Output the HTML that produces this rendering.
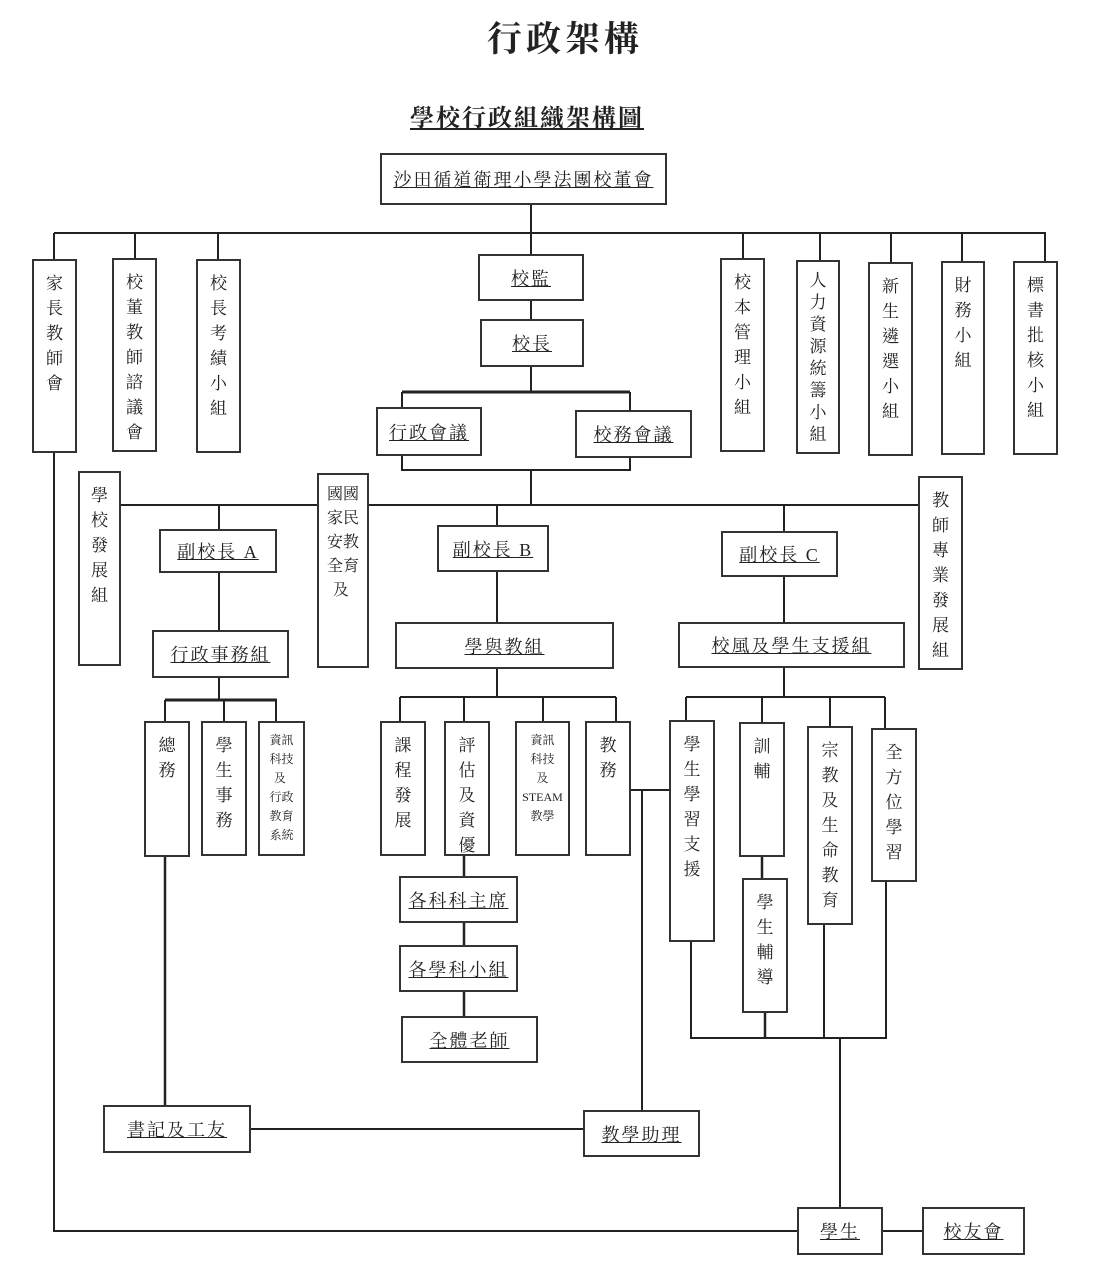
<!DOCTYPE html>
<html><head><meta charset="utf-8"><style>
body{margin:0;background:#fff;}
#c{position:relative;width:1100px;height:1271px;overflow:hidden;font-family:"Liberation Serif","Noto Serif CJK TC","Noto Serif CJK SC",serif;color:#222;}
.b{position:absolute;border:2px solid #333;box-sizing:border-box;background:#fff;}
.h{display:flex;align-items:center;justify-content:center;font-size:18px;}
.h span{text-decoration:underline;letter-spacing:2px;}
.v{text-align:center;font-size:17px;line-height:25px;padding-top:10px;}
.s{text-align:center;font-size:12px;line-height:19px;padding-top:8px;}
svg{position:absolute;left:0;top:0;}
</style></head><body><div id="c">
<div style="position:absolute;left:0;width:1100px;top:12px;text-align:center;font-size:35px;font-weight:bold;letter-spacing:4px;padding-left:30px;box-sizing:border-box;font-family:'Liberation Serif','Noto Serif CJK TC',serif;">行政架構</div>
<div style="position:absolute;left:410px;top:98px;font-size:24px;font-weight:bold;text-decoration:underline;letter-spacing:2px;">學校行政組織架構圖</div>
<svg width="1100" height="1271" stroke="#222" stroke-width="2" fill="none">
<path d="M54 233H1046M54 233V259M135 233V258M218 233V259M531 205V254M743 233V258M820 233V260M891 233V262M962 233V261M1045 233V261"/>
<path d="M531 301V319M531 367V392M402 392V407M630 392V410"/>
<path d="M402 392H630" stroke-width="3"/>
<path d="M402 456V470H630V458M531 470V505M121 505H918M219 505V529M497 505V525M784 505V531"/>
<path d="M219 573V630M497 572V622M784 577V622"/>
<path d="M219 678V700M165 700V721M224 700V721M276 700V721"/>
<path d="M165 700H277" stroke-width="3"/>
<path d="M497 669V697M400 697H616M400 697V721M464 697V721M543 697V721M616 697V721"/>
<path d="M784 668V697M686 697H885M686 697V720M762 697V722M830 697V726M885 697V728"/>
<path d="M631 790H669M642 790V1110"/>
<path d="M464 856V876M464 923V945M464 992V1016" stroke-width="2.5"/>
<path d="M762 857V878M765 1013V1038" stroke-width="2.5"/>
<path d="M691 942V1038H886V882M824 925V1038M840 1038V1207"/>
<path d="M165 857V1105" stroke-width="2.5"/>
<path d="M251 1129H583M883 1231H922M54 453V1231H797"/>
</svg>
<div class="b h" style="left:380px;top:153px;width:287px;height:52px"><span>沙田循道衛理小學法團校董會</span></div>
<div class="b v" style="left:32px;top:259px;width:45px;height:194px">家<br>長<br>教<br>師<br>會</div>
<div class="b v" style="left:112px;top:258px;width:45px;height:194px">校<br>董<br>教<br>師<br>諮<br>議<br>會</div>
<div class="b v" style="left:196px;top:259px;width:45px;height:194px">校<br>長<br>考<br>績<br>小<br>組</div>
<div class="b h" style="left:478px;top:254px;width:106px;height:47px"><span>校監</span></div>
<div class="b h" style="left:480px;top:319px;width:104px;height:48px"><span>校長</span></div>
<div class="b h" style="left:376px;top:407px;width:106px;height:49px"><span>行政會議</span></div>
<div class="b h" style="left:575px;top:410px;width:117px;height:48px"><span>校務會議</span></div>
<div class="b v" style="left:720px;top:258px;width:45px;height:194px">校<br>本<br>管<br>理<br>小<br>組</div>
<div class="b v" style="left:796px;top:260px;width:44px;height:194px;line-height:22px;padding-top:8px">人<br>力<br>資<br>源<br>統<br>籌<br>小<br>組</div>
<div class="b v" style="left:868px;top:262px;width:45px;height:194px">新<br>生<br>遴<br>選<br>小<br>組</div>
<div class="b v" style="left:941px;top:261px;width:44px;height:194px">財<br>務<br>小<br>組</div>
<div class="b v" style="left:1013px;top:261px;width:45px;height:194px">標<br>書<br>批<br>核<br>小<br>組</div>
<div class="b v" style="left:78px;top:471px;width:43px;height:195px">學<br>校<br>發<br>展<br>組</div>
<div class="b s" style="left:317px;top:473px;width:52px;height:195px;font-size:16px;line-height:24px;padding-top:8px">國國<br>家民<br>安教<br>全育<br>及&nbsp;</div>
<div class="b v" style="left:918px;top:476px;width:45px;height:194px">教<br>師<br>專<br>業<br>發<br>展<br>組</div>
<div class="b h" style="left:159px;top:529px;width:118px;height:44px"><span>副校長 A</span></div>
<div class="b h" style="left:437px;top:525px;width:112px;height:47px"><span>副校長 B</span></div>
<div class="b h" style="left:721px;top:531px;width:117px;height:46px"><span>副校長 C</span></div>
<div class="b h" style="left:152px;top:630px;width:137px;height:48px"><span>行政事務組</span></div>
<div class="b h" style="left:395px;top:622px;width:219px;height:47px"><span>學與教組</span></div>
<div class="b h" style="left:678px;top:622px;width:227px;height:46px"><span>校風及學生支援組</span></div>
<div class="b v" style="left:144px;top:721px;width:46px;height:136px">總<br>務</div>
<div class="b v" style="left:201px;top:721px;width:46px;height:135px">學<br>生<br>事<br>務</div>
<div class="b s" style="left:258px;top:721px;width:47px;height:135px">資訊<br>科技<br>及&nbsp;<br>行政<br>教育<br>系統</div>
<div class="b v" style="left:380px;top:721px;width:46px;height:135px">課<br>程<br>發<br>展</div>
<div class="b v" style="left:444px;top:721px;width:46px;height:135px">評<br>估<br>及<br>資<br>優</div>
<div class="b s" style="left:515px;top:721px;width:55px;height:135px">資訊<br>科技<br>及<br>STEAM<br>教學</div>
<div class="b v" style="left:585px;top:721px;width:46px;height:135px">教<br>務</div>
<div class="b v" style="left:669px;top:720px;width:46px;height:222px">學<br>生<br>學<br>習<br>支<br>援</div>
<div class="b v" style="left:739px;top:722px;width:46px;height:135px">訓<br>輔</div>
<div class="b v" style="left:742px;top:878px;width:46px;height:135px">學<br>生<br>輔<br>導</div>
<div class="b v" style="left:807px;top:726px;width:46px;height:199px">宗<br>教<br>及<br>生<br>命<br>教<br>育</div>
<div class="b v" style="left:871px;top:728px;width:46px;height:154px">全<br>方<br>位<br>學<br>習</div>
<div class="b h" style="left:399px;top:876px;width:119px;height:47px"><span>各科科主席</span></div>
<div class="b h" style="left:399px;top:945px;width:119px;height:47px"><span>各學科小組</span></div>
<div class="b h" style="left:401px;top:1016px;width:137px;height:47px"><span>全體老師</span></div>
<div class="b h" style="left:103px;top:1105px;width:148px;height:48px"><span>書記及工友</span></div>
<div class="b h" style="left:583px;top:1110px;width:117px;height:47px"><span>教學助理</span></div>
<div class="b h" style="left:797px;top:1207px;width:86px;height:48px"><span>學生</span></div>
<div class="b h" style="left:922px;top:1207px;width:103px;height:48px"><span>校友會</span></div>
</div></body></html>
